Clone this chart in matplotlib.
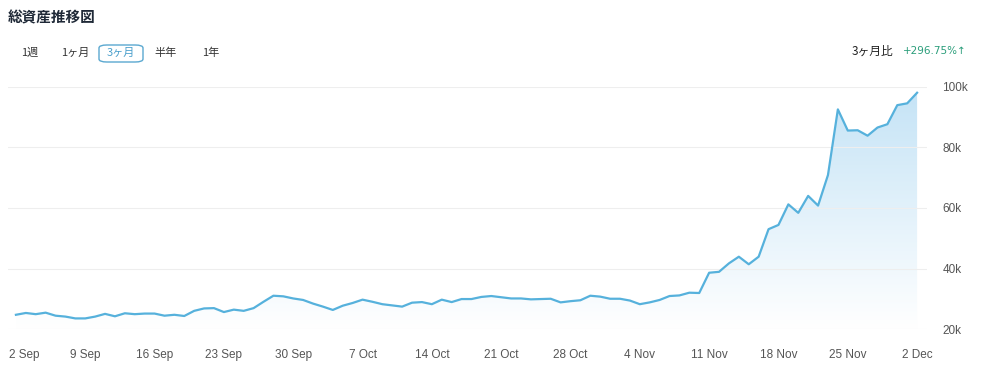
import numpy as np
import pandas as pd
import matplotlib
matplotlib.use("Agg")
import matplotlib.pyplot as plt
import matplotlib.dates as mdates
from matplotlib.transforms import ScaledTranslation
from matplotlib.patches import FancyBboxPatch
from matplotlib.colors import LinearSegmentedColormap

# ---- data (thousands) ----
values_k = [24.7, 25.3, 24.9, 25.4, 24.4, 24.1, 23.5, 23.5, 24.1, 25.0,
            24.2, 25.2, 24.9, 25.1, 25.1, 24.4, 24.7, 24.3, 26.0, 26.8,
            26.9, 25.6, 26.4, 26.0, 26.9, 29.0, 31.0, 30.8, 30.1, 29.6,
            28.4, 27.4, 26.3, 27.7, 28.6, 29.7, 29.0, 28.2, 27.8, 27.4,
            28.7, 28.9, 28.2, 29.7, 28.9, 29.9, 29.9, 30.6, 30.9,
            30.5, 30.1, 30.1, 29.8, 29.9, 30.0, 28.8, 29.2, 29.5, 31.0,
            30.7, 30.0, 30.0, 29.4, 28.2, 28.8, 29.6, 30.9, 31.1, 32.0, 31.9,
            38.6, 38.9, 41.7, 43.9, 41.4, 43.9, 53.0, 54.4, 61.2, 58.4,
            64.0, 60.8, 70.9, 92.6, 85.6, 85.7, 83.9, 86.6, 87.7, 94.0,
            94.6, 98.1]
start_date = "2024-09-02"
tick_dates = ["2024-09-02", "2024-09-09", "2024-09-16", "2024-09-23", "2024-09-30",
              "2024-10-07", "2024-10-14", "2024-10-21", "2024-10-28", "2024-11-04",
              "2024-11-11", "2024-11-18", "2024-11-25", "2024-12-02"]
y_ticks = [20000, 40000, 60000, 80000, 100000]
y_labels = ["20k", "40k", "60k", "80k", "100k"]
title = "総資産推移図"
buttons = ["1週", "1ヶ月", "3ヶ月", "半年", "1年"]
compare_label = "3ヶ月比"
compare_value = "+296.75%↑"

dates = pd.date_range(start_date, periods=len(values_k), freq="D")
values = np.array(values_k) * 1000
x = mdates.date2num(dates)

W, H = 982, 372
DPI = 100
fig = plt.figure(figsize=(W / DPI, H / DPI), dpi=DPI)
fig.patch.set_facecolor("white")

jp = ["Noto Sans CJK JP", "DejaVu Sans"]
num_font = ["Liberation Sans", "DejaVu Sans"]

left, right, bottom, top = 8, 927, 329, 87
ax = fig.add_axes([left / W, 1 - bottom / H, (right - left) / W, (bottom - top) / H])
ax.set_facecolor("white")

line_color = "#56b1dc"

# gradient fill under the line
grad = np.linspace(0, 1, 256).reshape(-1, 1)
cmap = LinearSegmentedColormap.from_list("g", ["#ffffff", "#c4e3f6"])
im = ax.imshow(grad, extent=[x[0], x[-1], 20000, 100000], origin="lower",
               aspect="auto", cmap=cmap, zorder=1, interpolation="bilinear")
poly = ax.fill_between(x, values, 20000, color="none", lw=0)
clip_path = poly.get_paths()[0]
im.set_clip_path(clip_path, transform=ax.transData)
ax.set_xlim(x[0] - 0.8, x[-1] + 1.0)
ax.set_ylim(20000, 100000)

ax.plot(x, values, color=line_color, lw=1.6, zorder=3, solid_joinstyle="round")

for s in ax.spines.values():
    s.set_visible(False)
ax.set_yticks(y_ticks)
ax.set_yticklabels(y_labels)
ax.yaxis.tick_right()
ax.grid(axis="y", color="#eeeeee", lw=0.8, zorder=0)
ax.grid(axis="x", visible=False)
ax.tick_params(axis="y", length=0, pad=11, labelsize=8.5, labelcolor="#555555")
ax.tick_params(axis="x", length=0, pad=14.5, labelsize=8.5, labelcolor="#555555")
tick_x = mdates.date2num(pd.to_datetime(tick_dates))
ax.set_xticks(tick_x)
ax.set_xticklabels([f"{pd.Timestamp(d).day} {pd.Timestamp(d).strftime('%b')}" for d in tick_dates])
for lab in ax.get_xticklabels() + ax.get_yticklabels():
    lab.set_fontfamily(num_font)
first = ax.get_xticklabels()[0]
first.set_transform(first.get_transform() + ScaledTranslation(8 / DPI, 0, fig.dpi_scale_trans))

# header texts
fig.text(8 / W, 1 - 17 / H, title, fontsize=10.5, fontweight="bold", color="#1f2937",
         family=jp, va="center", ha="left")

btn_x = [30, 75, 121, 166, 211]
for i, (b, bx) in enumerate(zip(buttons, btn_x)):
    col = "#4a9fcc" if i == 2 else "#333333"
    fig.text(bx / W, 1 - 53 / H, b, fontsize=8, color=col, family=jp, va="center", ha="center")
box = FancyBboxPatch((99 / W, 1 - 62 / H), 44 / W, 17 / H,
                     boxstyle="round,pad=0,rounding_size=0.008", transform=fig.transFigure,
                     fill=False, edgecolor="#5aa8d0", lw=1.0)
fig.patches.append(box)

fig.text(893 / W, 1 - 51 / H, compare_label, fontsize=8.5, color="#222222", family=jp,
         va="center", ha="right")
fig.text(903 / W, 1 - 51 / H, compare_value, fontsize=7.5, color="#2a9d7a",
         family=["DejaVu Sans"], va="center", ha="left")

fig.savefig("out.png", dpi=DPI, facecolor="white")
